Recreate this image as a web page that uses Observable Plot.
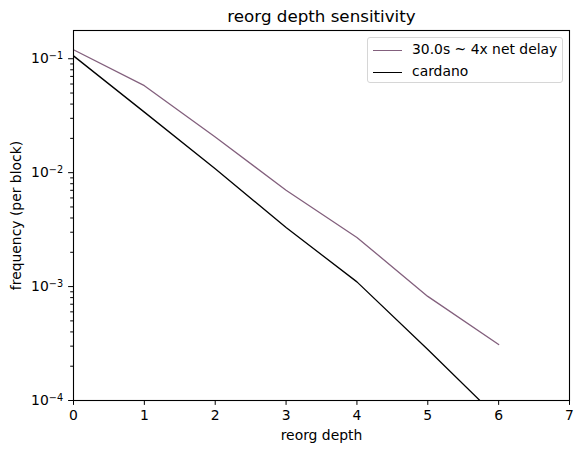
<!DOCTYPE html>
<html><head><meta charset="utf-8">
<script src="https://cdn.jsdelivr.net/npm/d3@7"></script>
<script src="https://cdn.jsdelivr.net/npm/@observablehq/plot@0.6"></script>
<style>
html,body{margin:0;padding:0;background:#fff;font-family:"DejaVu Sans",sans-serif;}
#wrap{position:relative;width:583px;height:453px;overflow:hidden;}
#wrap svg{display:block;position:absolute;left:0;top:0;font-size:13.9px;font-family:"DejaVu Sans",sans-serif;}
.legend{position:absolute;left:367px;top:37px;width:194px;height:44px;border:1px solid #d6d6d6;border-radius:3px;background:rgba(255,255,255,0.8);font-size:13.9px;color:#000;}
.row{position:absolute;left:0;height:16px;}
.row .sw{position:absolute;left:5px;top:8px;width:29px;height:0;border-top-width:1.3px;border-top-style:solid;}
.row .lb{position:absolute;left:44px;top:-1px;white-space:nowrap;line-height:16px;}
</style>
</head><body>
<div id="wrap"></div>
<script>
const depths = [0, 1, 2, 3, 4, 5, 6];
const delay30 = [0.12, 0.058, 0.0206, 0.0070, 0.0027, 0.00082, 0.00031];
const cardano = [0.106, 0.034, 0.0108, 0.0033, 0.0011, 0.00028, 0.000069];
const seriesNames = ["30.0s ~ 4x net delay", "cardano"];
const seriesColors = ["#83607d", "#000000"];
const xTicks = [0, 1, 2, 3, 4, 5, 6, 7];
const yMajor = [1e-4, 1e-3, 1e-2, 1e-1];
const yExponents = ["\u22124", "\u22123", "\u22122", "\u22121"];
const title = "reorg depth sensitivity";
const xLabel = "reorg depth";
const yLabel = "frequency (per block)";

const yMax = 0.177;
const yMinor = [];
for (const d of yMajor) for (let k = 2; k <= 9; k++) { const v = d * k; if (v <= yMax) yMinor.push(v); }

const rows = [];
depths.forEach((d, i) => {
  rows.push({depth: d, value: delay30[i], series: seriesNames[0]});
  rows.push({depth: d, value: cardano[i], series: seriesNames[1]});
});

const FS = 13.9;
const chart = Plot.plot({
  width: 583, height: 453,
  marginLeft: 73, marginRight: 14, marginTop: 30, marginBottom: 53,
  style: {fontFamily: "DejaVu Sans", fontSize: FS + "px", color: "#000", background: "#fff"},
  x: {domain: [0, 7]},
  y: {type: "log", domain: [1e-4, yMax]},
  color: {domain: seriesNames, range: seriesColors},
  marks: [
    Plot.line(rows, {x: "depth", y: "value", z: "series", stroke: "series", strokeWidth: 1.3, clip: true}),
    Plot.frame({stroke: "#000", strokeWidth: 1.1}),
    Plot.axisX({ticks: xTicks, tickSize: 4.9, tickPadding: 5, fontSize: FS, tickFormat: d => String(d),
      label: xLabel, labelAnchor: "center", labelArrow: "none", labelOffset: 39}),
    Plot.axisY({ticks: yMinor, tickSize: 2.8, tickFormat: () => "", label: null}),
    Plot.axisY({ticks: yMajor, tickSize: 4.9, tickPadding: 5.5, fontSize: FS,
      tickFormat: d => "10|" + yExponents[yMajor.indexOf(d)],
      label: yLabel, labelAnchor: "center", labelArrow: "none", labelOffset: 62}),
    Plot.text([title], {frameAnchor: "top", dy: -14, lineAnchor: "middle", fontSize: 16.7})
  ]
});
const wrap = document.getElementById("wrap");
wrap.appendChild(chart);

// render 10^exp as mathtext-like base + raised smaller exponent
const ns = "http://www.w3.org/2000/svg";
chart.querySelectorAll("text").forEach(t => {
  const s = t.textContent;
  if (/^10\|/.test(s)) {
    const exp = s.split("|")[1];
    while (t.firstChild) t.removeChild(t.firstChild);
    const a = document.createElementNS(ns, "tspan"); a.textContent = "10";
    const b = document.createElementNS(ns, "tspan"); b.textContent = exp;
    b.setAttribute("dy", "-0.42em"); b.setAttribute("font-size", "70%");
    t.appendChild(a); t.appendChild(b);
  }
});

const leg = document.createElement("div");
leg.className = "legend";
seriesNames.forEach((n, i) => {
  const r = document.createElement("div");
  r.className = "row";
  r.style.top = (4 + i * 22) + "px";
  r.innerHTML = `<div class="sw" style="border-top-color:${seriesColors[i]}"></div><div class="lb">${n}</div>`;
  leg.appendChild(r);
});
wrap.appendChild(leg);
</script>
</body></html>
